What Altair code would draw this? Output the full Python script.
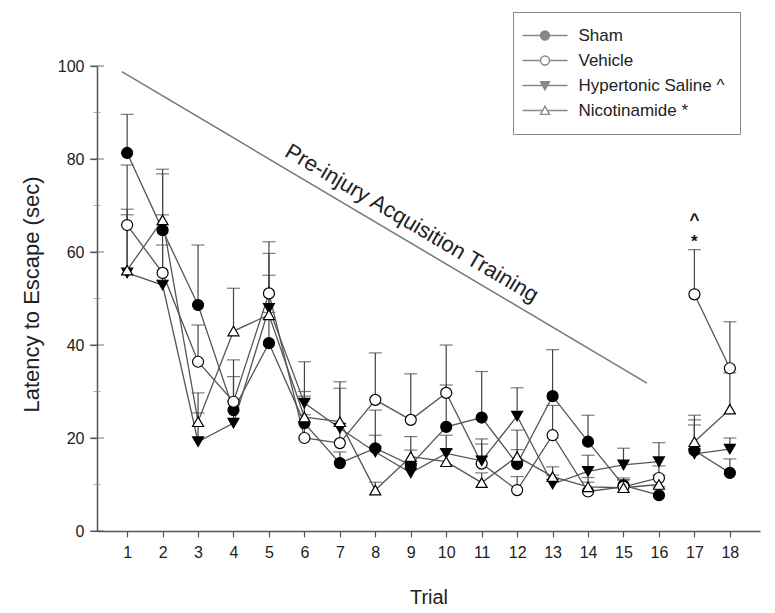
import altair as alt
import pandas as pd

trials = list(range(1, 19))
series = ["Sham", "Vehicle", "Hypertonic Saline ^", "Nicotinamide *"]

sham_mean = [81.3, 64.7, 48.6, 26.0, 40.4, 23.2, 14.6, 17.8, 14.2, 22.4, 24.4, 14.4, 29.0, 19.2, 9.8, 7.7, 17.3, 12.5]
sham_top = [89.6, 77.8, 61.5, 33.2, 47.0, 30.0, 17.0, 26.0, 17.4, 31.4, 34.3, 17.5, 39.0, 24.9, 11.0, 9.5, 22.8, 15.5]
veh_mean = [65.8, 55.5, 36.4, 27.8, 51.1, 20.0, 18.9, 28.2, 23.9, 29.7, 14.5, 8.8, 20.6, 8.5, 9.5, 11.4, 50.9, 35.0]
veh_top = [78.7, 68.0, 44.3, 36.8, 62.2, 25.0, 22.5, 38.3, 33.8, 40.0, 18.7, 11.7, 27.0, 10.5, 11.4, 14.0, 60.5, 45.0]
hs_mean = [55.5, 52.9, 19.2, 23.2, 47.9, 27.5, 22.1, 17.0, 12.5, 16.7, 15.1, 24.7, 10.1, 12.8, 14.2, 14.9, 16.6, 17.6]
hs_top = [68.0, 61.5, 25.4, 28.0, 59.7, 36.4, 30.7, 20.6, 14.5, 20.6, 19.8, 30.8, 12.0, 16.3, 17.8, 19.0, 23.9, 20.0]
nic_mean = [56.1, 66.9, 23.5, 43.0, 46.5, 24.5, 23.5, 8.8, 16.0, 14.9, 10.4, 16.0, 11.7, 9.5, 9.3, 10.0, 19.2, 26.2]
nic_top = [69.2, 76.8, 29.7, 52.2, 55.0, 29.0, 32.1, 10.5, 20.3, 17.5, 12.5, 21.7, 13.8, 11.5, 11.0, 12.0, 24.9, 34.0]

segments = ["pre"] * 16 + ["post"] * 2

diag_x = [0.85, 15.66]
diag_y = [98.8, 31.8]
diag_label = ["Pre-injury Acquisition Training"]
diag_label_x = [9.03]
diag_label_y = [66.2]

ann_text = ["^", "*"]
ann_x = [17, 17]
ann_y = [66.8, 62.2]

x_domain = [0.15, 18.85]
y_domain = [0, 100]
y_major = [0, 20, 40, 60, 80, 100]
y_minor = [10, 30, 50, 70, 90]

FONT = "Liberation Sans"

rows = []
for name, means, tops in zip(series, [sham_mean, veh_mean, hs_mean, nic_mean],
                             [sham_top, veh_top, hs_top, nic_top]):
    for t, m, tp, sg in zip(trials, means, tops, segments):
        rows.append({"series": name, "trial": t, "mean": m, "top": tp, "seg": sg})
df = pd.DataFrame(rows)

diag_df = pd.DataFrame({"trial": diag_x, "val": diag_y})
lab_df = pd.DataFrame({"trial": diag_label_x, "val": diag_label_y, "txt": diag_label})
ann_df = pd.DataFrame({"trial": ann_x, "val": ann_y, "txt": ann_text})
major_df = pd.DataFrame({"trial": [x_domain[0]] * len(y_major), "val": y_major})
minor_df = pd.DataFrame({"trial": [x_domain[0]] * len(y_minor), "val": y_minor})

xscale = alt.Scale(domain=x_domain, nice=False, zero=False)
yscale = alt.Scale(domain=y_domain, nice=False, zero=False)
xaxis = alt.Axis(values=trials, tickSize=6, tickColor="#555", tickWidth=1.2,
                 domainColor="#555", domainWidth=1.5, labelFontSize=16,
                 labelFont=FONT, labelColor="#222", labelPadding=7,
                 labelFlush=False, labelOverlap=False, grid=False,
                 title="Trial", titleFont=FONT, titleFontSize=20,
                 titleFontWeight="normal", titleColor="#222",
                 titleY=66, titleBaseline="middle")
xenc = alt.X("trial:Q", scale=xscale, axis=xaxis)

yaxis = alt.Axis(orient="left", values=y_major, tickSize=7, tickColor="#555",
                 tickWidth=1.2, domainColor="#555", domainWidth=1.5,
                 labelFontSize=16, labelFont=FONT, labelColor="#222",
                 labelPadding=6, labelFlush=False, labelOverlap=False,
                 grid=False, title="Latency to Escape (sec)", titleFont=FONT,
                 titleFontSize=22, titleFontWeight="normal", titleColor="#222",
                 titleX=-66, titleY=228, titleAlign="center",
                 titleBaseline="middle")


def yenc(field):
    return alt.Y(field + ":Q", scale=yscale, axis=yaxis)


diag = alt.Chart(diag_df).mark_line(color="#777", strokeWidth=1.5).encode(
    x=xenc, y=yenc("val"))

diag_text = alt.Chart(lab_df).mark_text(angle=30.6, font=FONT, fontSize=22,
                                        color="#222", align="center",
                                        baseline="middle").encode(
    x=xenc, y=yenc("val"), text="txt:N")

major_ticks = alt.Chart(major_df).mark_tick(orient="horizontal", size=14,
                                            thickness=1.2, color="#555").encode(
    x=xenc, y=yenc("val"))
minor_ticks = alt.Chart(minor_df).mark_tick(orient="horizontal", size=7,
                                            thickness=1.0, color="#888").encode(
    x=xenc, y=yenc("val"))

err_rule = alt.Chart(df).mark_rule(color="#444", strokeWidth=1.2).encode(
    x=xenc, y=yenc("mean"), y2="top:Q")

err_cap = alt.Chart(df).mark_tick(orient="horizontal", size=13, thickness=1.2,
                                  color="#444").encode(
    x=xenc, y=yenc("top"))

lines = alt.Chart(df).mark_line(color="#555", strokeWidth=1.3).encode(
    x=xenc, y=yenc("mean"), detail=["series:N", "seg:N"])

points = alt.Chart(df).mark_point(opacity=1, stroke="black", strokeWidth=1.2,
                                  size=121).encode(
    x=xenc, y=yenc("mean"),
    shape=alt.Shape("series:N", scale=alt.Scale(domain=series,
                    range=["circle", "circle", "triangle-down", "triangle-up"]),
                    legend=None),
    fill=alt.Fill("series:N", scale=alt.Scale(domain=series,
                  range=["black", "white", "black", "white"]), legend=None))


def ring(r):
    return f"M{-r},0A{r},{r},0,1,1,{r},0A{r},{r},0,1,1,{-r},0Z"


def tri(verts, k, c):
    pts = [(c[0] + k * (vx - c[0]), c[1] + k * (vy - c[1])) for vx, vy in verts]
    return "M{:.3f},{:.3f}L{:.3f},{:.3f}L{:.3f},{:.3f}Z".format(
        pts[0][0], pts[0][1], pts[1][0], pts[1][1], pts[2][0], pts[2][1])


tri_down = [(-1, -0.85), (1, -0.85), (0, 0.95)]
tri_up = [(0, -0.95), (1, 0.85), (-1, 0.85)]
stub_c = "M-5,0H-1M1,0H5"
stub_t = "M-5,0H-0.53M0.53,0H5"
legend_paths = [
    stub_c + "".join(ring(r) for r in [1, 0.86, 0.72, 0.58, 0.44, 0.3, 0.16, 0.05]),
    stub_c + ring(1),
    stub_t + "".join(tri(tri_down, k, (0, -0.25))
                     for k in [1, 0.82, 0.64, 0.46, 0.28, 0.12]),
    stub_t + tri(tri_up, 1, (0, 0.25)),
]

leg = alt.Legend(orient="none", legendX=416, legendY=-54, title=None,
                 strokeColor="#888", fillColor="white", padding=15,
                 labelFont=FONT, labelFontSize=17, labelColor="#222",
                 symbolSize=81, symbolStrokeWidth=1.4, symbolOpacity=1,
                 symbolOffset=8.5, labelOffset=25, rowPadding=7)

legend_layer = alt.Chart(df).transform_filter("datum.trial < 0").mark_point(
    filled=False, strokeWidth=1.4, opacity=1).encode(
    x=xenc, y=yenc("mean"),
    shape=alt.Shape("series:N", scale=alt.Scale(domain=series, range=legend_paths),
                    legend=leg),
    color=alt.Color("series:N", scale=alt.Scale(domain=series,
                    range=["black", "black", "black", "black"]), legend=leg))

ann = alt.Chart(ann_df).mark_text(font=FONT, fontSize=17, fontWeight="bold",
                                  color="#111", align="center",
                                  baseline="middle").encode(
    x=xenc, y=yenc("val"), text="txt:N")

chart = alt.layer(diag, diag_text, major_ticks, minor_ticks, err_rule, err_cap,
                  lines, points, legend_layer, ann).resolve_scale(
    shape="independent", fill="independent").properties(
    width=663, height=465,
    autosize=alt.AutoSizeParams(type="none"),
    padding={"left": 89, "top": 58, "right": 5, "bottom": 79},
    background="white").configure_view(stroke=None)

chart.save("out.html", embed_options={"renderer": "svg", "actions": False})
